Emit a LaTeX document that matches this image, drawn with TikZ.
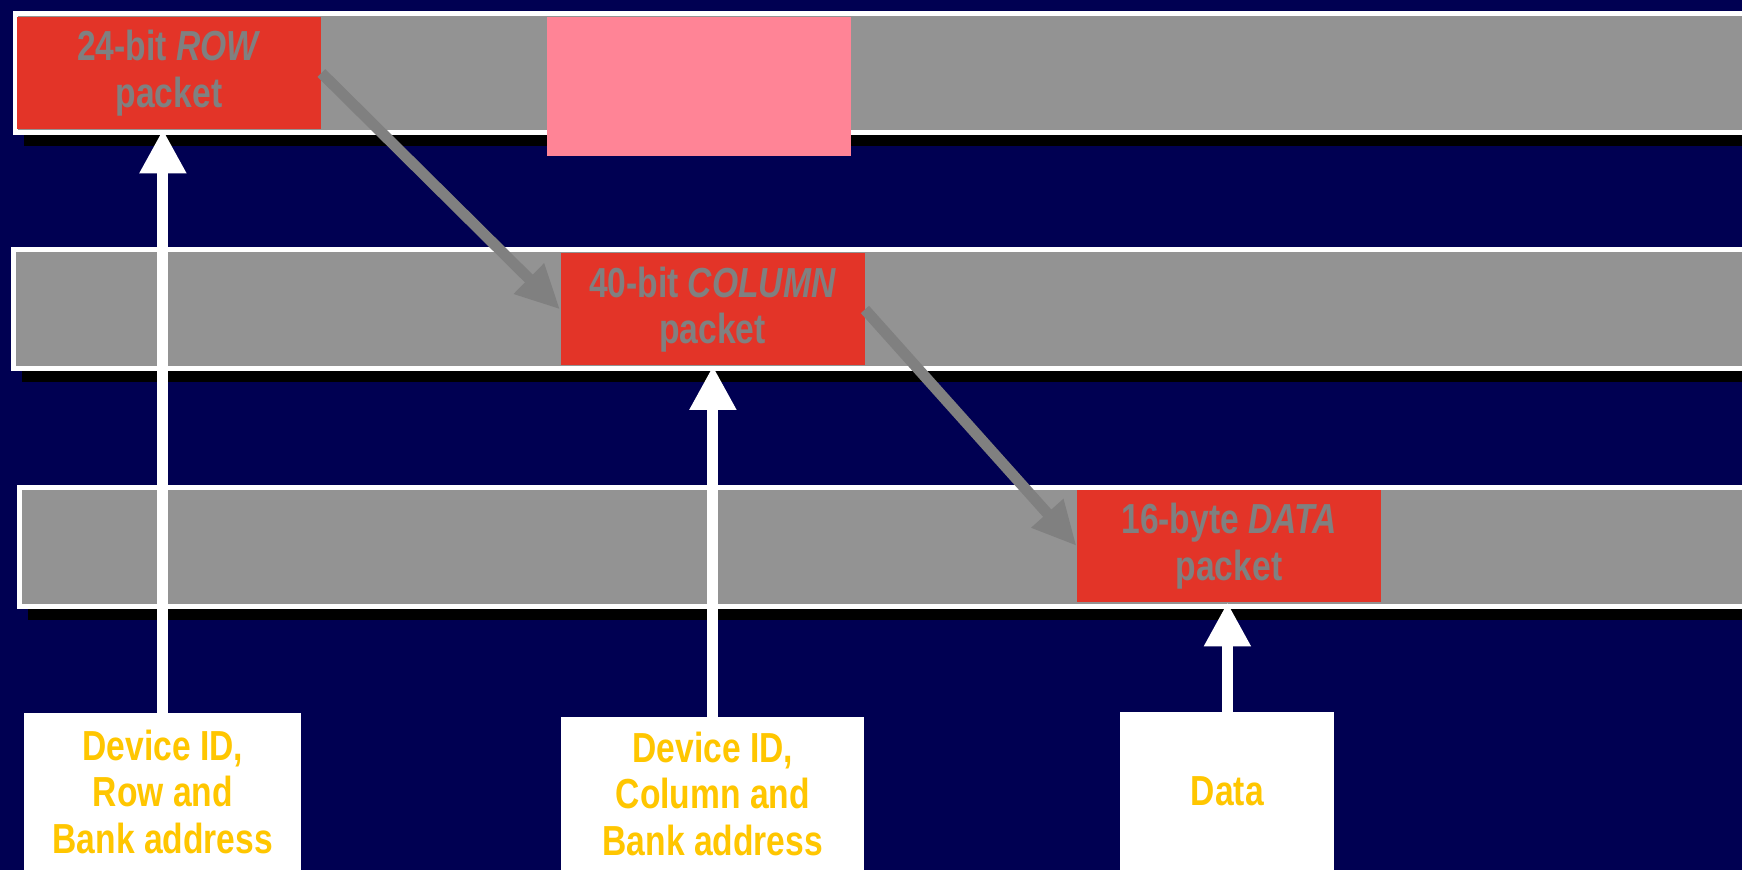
\documentclass[tikz,border=0pt]{standalone}
\usepackage{fontspec}
\setmainfont[FakeStretch=0.8]{Liberation Sans}
\usetikzlibrary{positioning,arrows.meta,shadows}
\definecolor{navy}{RGB}{0,0,82}
\definecolor{bargray}{RGB}{147,147,147}
\definecolor{packetred}{RGB}{227,52,40}
\definecolor{pinkslot}{RGB}{255,132,150}
\definecolor{txtgray}{RGB}{128,128,128}
\definecolor{infoyellow}{RGB}{255,198,0}

\begin{document}
\begin{tikzpicture}[x=0.5pt, y=-0.5pt,
    bar/.style={draw=white, line width=2.5pt, fill=bargray, minimum width=895pt, minimum height=59.5pt,
                anchor=north west, inner sep=0pt,
                drop shadow={shadow xshift=4.25pt, shadow yshift=-6.75pt, fill=black, opacity=1}},
    packet/.style={fill=packetred, text=txtgray, minimum width=152pt, minimum height=56pt, inner sep=0pt,
                   align=center, font=\fontsize{21}{23.3}\selectfont\bfseries},
    info/.style={fill=white, text=infoyellow, anchor=north west, inner sep=0pt,
                 align=center, font=\fontsize{21}{23.3}\selectfont\bfseries},
    up/.style={draw=white, line width=5.5pt, -{Triangle[width=22pt, length=22pt]}},
    hop/.style={draw=txtgray, line width=5.5pt, -{Triangle[width=20pt, length=22pt]}}]

\useasboundingbox (0,0) rectangle (1742,870);
\clip (0,0) rectangle (1742,870);
\fill[navy] (0,0) rectangle (1742,870);

% bus lanes
\node[bar] (rowbar) at (13,11) {};
\node[bar] (colbar) at (11,247) {};
\node[bar] (databar) at (17,485) {};

% packets
\node[fill=pinkslot, minimum width=152pt, minimum height=69.5pt, inner sep=0pt] (slot) at (699,86.5) {};
\node[packet] (row) at (169,73) {24-bit \textit{ROW}\\packet};
\node[packet] (col) at (712.5,309.5) {40-bit \textit{COLUMN}\\packet};
\node[packet] (data) at (1229,546) {16-byte \textit{DATA}\\packet};

% field boxes
\node[info, minimum width=138.5pt, minimum height=78.5pt] (rowinfo) at (24,713) {Device ID,\\Row and\\Bank address};
\node[info, minimum width=151.5pt, minimum height=76.5pt] (colinfo) at (561,717) {Device ID,\\Column and\\Bank address};
\node[info, minimum width=107pt, minimum height=79pt] (datainfo) at (1120,712) {Data};

% packet order
\path (row.east) edge[hop] (col.west);
\path (col.east) edge[hop] (data.west);

% fields into packets
\draw[up] (rowinfo.north) -- (rowinfo.north |- row.south);
\draw[up] (colinfo.north) -- (colinfo.north |- col.south);
\draw[up] (datainfo.north) -- (datainfo.north |- data.south);

\end{tikzpicture}
\end{document}
